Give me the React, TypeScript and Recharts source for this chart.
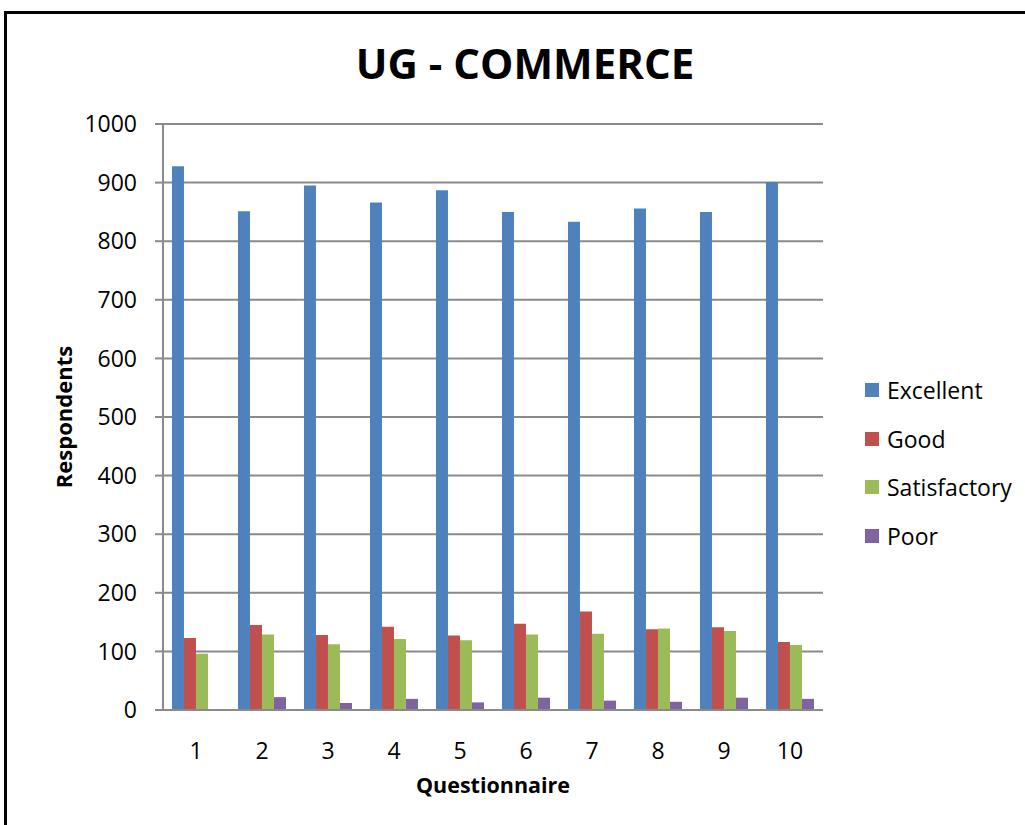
import { BarChart, Bar, XAxis, YAxis, CartesianGrid, Legend } from 'recharts';

const QUESTIONS = ['1', '2', '3', '4', '5', '6', '7', '8', '9', '10'];
const EXCELLENT = [928, 851, 895, 866, 887, 850, 833, 856, 850, 901];
const GOOD = [123, 145, 128, 142, 127, 147, 168, 138, 141, 116];
const SATISFACTORY = [96, 129, 112, 121, 119, 129, 130, 139, 135, 111];
const POOR = [0, 22, 12, 19, 13, 21, 16, 14, 21, 19];
const Y_TICKS = [0, 100, 200, 300, 400, 500, 600, 700, 800, 900, 1000];

const SERIES = [
  { key: 'excellent', name: 'Excellent', color: '#4F81BD', values: EXCELLENT },
  { key: 'good', name: 'Good', color: '#C0504D', values: GOOD },
  { key: 'satisfactory', name: 'Satisfactory', color: '#9BBB59', values: SATISFACTORY },
  { key: 'poor', name: 'Poor', color: '#8064A2', values: POOR },
];

const chartData = QUESTIONS.map((q, i) => {
  const row: Record<string, string | number> = { q };
  SERIES.forEach((s) => {
    row[s.key] = s.values[i];
  });
  return row;
});

const FONT = '"Open Sans", Lato, sans-serif';
const GRID = '#8a8a8a';

function LegendBox() {
  return (
    <div style={{ fontFamily: FONT, fontSize: 23, color: '#000' }}>
      {SERIES.map((s) => (
        <div key={s.key} style={{ display: 'flex', alignItems: 'center', height: 48.5 }}>
          <span style={{ width: 14, height: 14, background: s.color, marginRight: 8, display: 'inline-block' }} />
          <span>{s.name}</span>
        </div>
      ))}
    </div>
  );
}

function YLabel(props: any) {
  const vb = props.viewBox || { x: 0, y: 0, width: 0, height: 0 };
  const x = vb.x + vb.width - 100;
  const y = vb.y + vb.height / 2;
  return (
    <text
      x={x}
      y={y}
      transform={`rotate(-90 ${x} ${y})`}
      textAnchor="middle"
      dominantBaseline="central"
      fontFamily={FONT}
      fontWeight="bold"
      fontSize={22}
      fill="#000"
    >
      Respondents
    </text>
  );
}

export default function App() {
  return (
    <div
      style={{
        position: 'fixed',
        left: 0,
        top: 0,
        width: 1025,
        height: 825,
        overflow: 'hidden',
        background: '#fff',
      }}
    >
      {/* outer frame, runs off the right and bottom edges */}
      <div
        style={{
          position: 'absolute',
          left: 4,
          top: 11,
          width: 1040,
          height: 840,
          border: '3px solid #000',
        }}
      />
      <div
        style={{
          position: 'absolute',
          left: 0,
          width: 1050,
          top: 36,
          textAlign: 'center',
          fontFamily: FONT,
          fontWeight: 'bold',
          fontSize: 42,
          color: '#000',
          lineHeight: '54px',
        }}
      >
        UG - COMMERCE
      </div>
      <div style={{ position: 'absolute', left: 0, top: 0 }}>
        <BarChart
          width={1025}
          height={825}
          data={chartData}
          margin={{ top: 124, right: 202, bottom: 65, left: 63 }}
          barCategoryGap="13.6%"
          barGap={0}
        >
          <CartesianGrid vertical={false} stroke={GRID} strokeWidth={2} />
          <XAxis
            dataKey="q"
            height={50}
            axisLine={{ stroke: GRID, strokeWidth: 2 }}
            tickLine={false}
            tickMargin={27}
            tick={{ fontFamily: FONT, fontSize: 23, fill: '#000' }}
            label={{
              value: 'Questionnaire',
              position: 'insideBottom',
              offset: -33,
              style: { fontFamily: FONT, fontWeight: 'bold', fontSize: 21.5, fill: '#000' },
            }}
          />
          <YAxis
            width={100}
            domain={[0, 1000]}
            ticks={Y_TICKS}
            interval={0}
            axisLine={{ stroke: GRID, strokeWidth: 2 }}
            tickLine={{ stroke: GRID, strokeWidth: 2 }}
            tickSize={8}
            tickMargin={18}
            tick={{ fontFamily: FONT, fontSize: 23, fill: '#000' }}
            label={<YLabel />}
          />
          <Legend
            layout="horizontal"
            align="center"
            verticalAlign="middle"
            wrapperStyle={{ left: 865, top: 366, width: 160 }}
            content={() => <LegendBox />}
          />
          {SERIES.map((s) => (
            <Bar
              key={s.key}
              dataKey={s.key}
              name={s.name}
              fill={s.color}
              isAnimationActive={false}
            />
          ))}
        </BarChart>
      </div>
    </div>
  );
}
